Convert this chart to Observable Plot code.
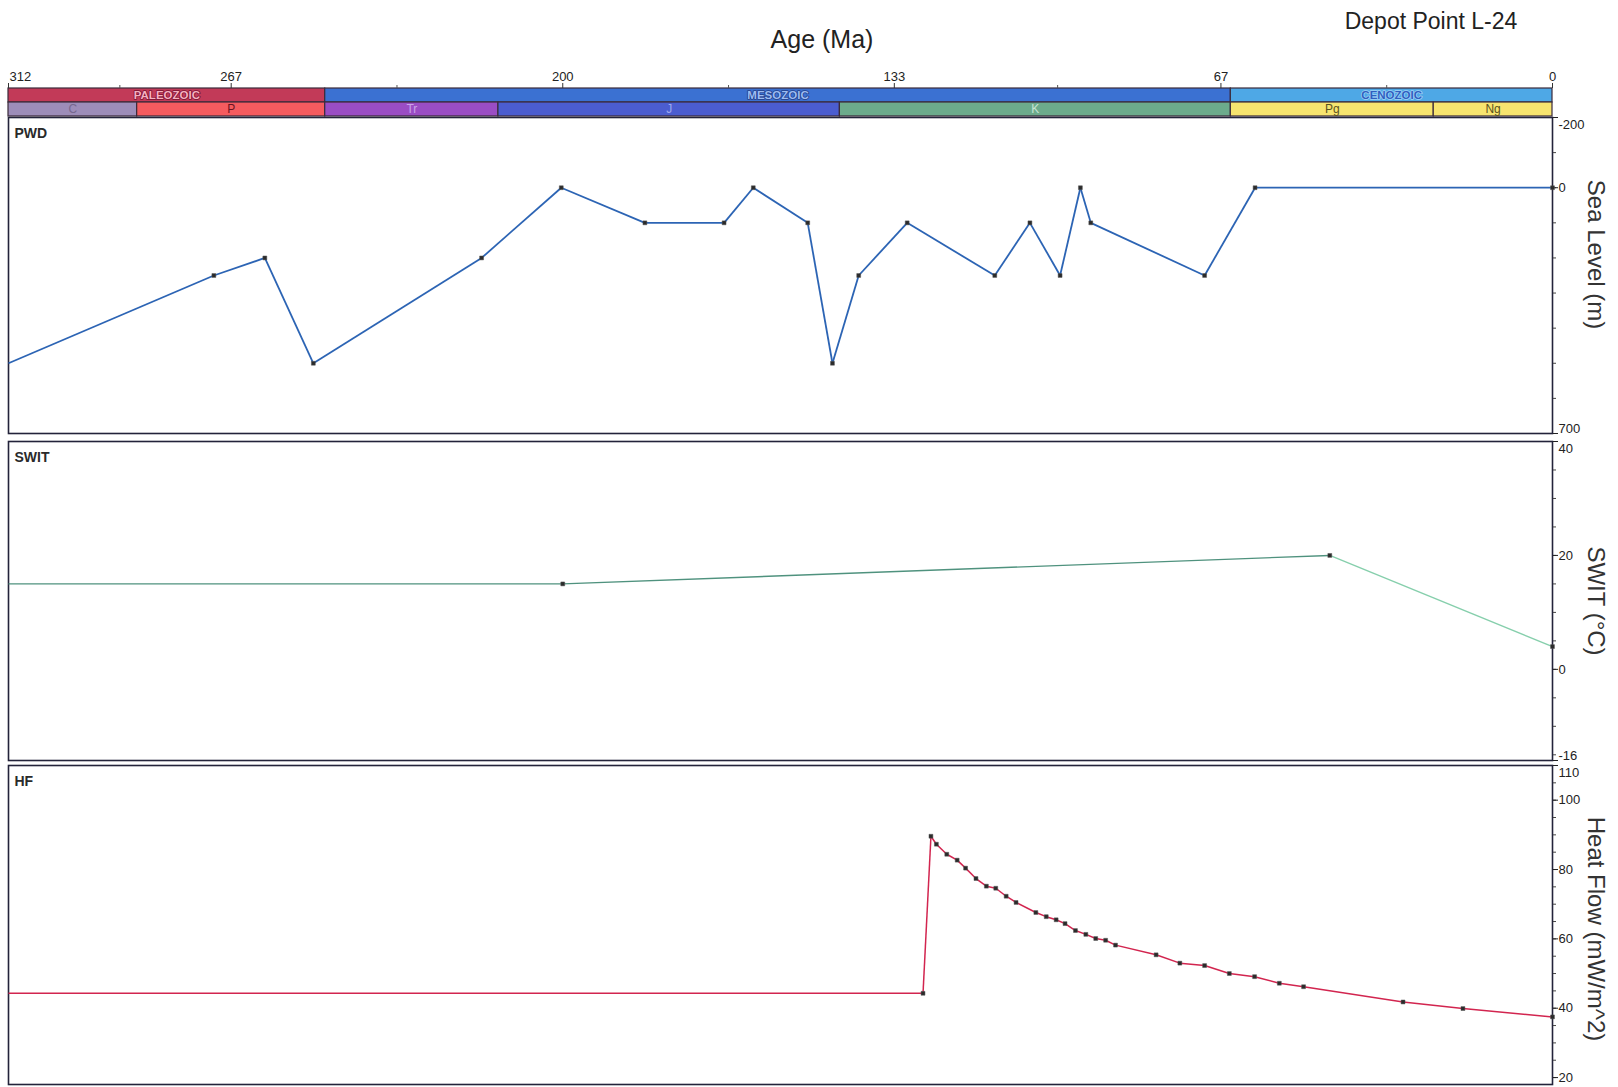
<!DOCTYPE html>
<html><head><meta charset="utf-8">
<script src="https://cdn.jsdelivr.net/npm/d3@7"></script>
<script src="https://cdn.jsdelivr.net/npm/@observablehq/plot@0.6"></script>
<style>
body{margin:0;background:#fff;}
#wrap{position:relative;width:1618px;height:1087px;overflow:hidden;background:#fff;font-family:"Liberation Sans",Arial,sans-serif;}
#wrap svg{position:absolute;left:0;overflow:visible;}
.title{position:absolute;color:#222;white-space:nowrap;transform:translate(-50%,-50%);}
</style></head>
<body><div id="wrap"></div>
<script>
// ---------- data ----------
const ageTicks = [312, 267, 200, 133, 67, 0];
const ageTickLabels = ["312", "267", "200", "133", "67", "0"];
const ageMinorTicks = [289.5, 233.5, 166.5, 100, 33.5];

const eraNames = ["PALEOZOIC", "MESOZOIC", "CENOZOIC"];
const eraStart = [312, 248, 65];
const eraEnd   = [248, 65, 0];
const eraFill  = ["#c23a58", "#3b71d2", "#4ea8e6"];
const eraTextFill = ["#f6b0c0", "#9cbcf2", "#2f5fc0"];
const eraTextHalo = ["#7a1030", "#24408a", "#9fd2f6"];

const periodNames = ["C", "P", "Tr", "J", "K", "Pg", "Ng"];
const periodStart = [312, 286, 248, 213, 144, 65, 24];
const periodEnd   = [286, 248, 213, 144, 65, 24, 0];
const periodFill  = ["#9d8db9", "#f55b5f", "#9a4dc4", "#4b5dd0", "#6cab8c", "#f7e46f", "#f7e46f"];
const periodText  = ["#76688f", "#6a1422", "#caa4ea", "#9eaaf0", "#c6e4d4", "#5a5220", "#5a5220"];

// Sea level (PWD)
const pwdAge   = [312, 270.5, 260.2, 250.4, 216.4, 200.3, 183.4, 167.4, 161.5, 150.5, 145.5, 140.2, 130.4, 112.7, 105.6, 99.5, 95.4, 93.3, 70.3, 60.1, 0];
const pwdValue = [500, 250, 200, 500, 200, 0, 100, 100, 0, 100, 500, 250, 100, 250, 100, 250, 0, 100, 250, 0, 0];
const pwdTicks = [-200, 0, 700];
const pwdTickLabels = ["-200", "0", "700"];

// Sediment-water interface temperature (SWIT)
const switAge   = [312, 200, 45, 0];
const switValue = [15, 15, 20, 4];
const switTicks = [40, 20, 0, -16];
const switTickLabels = ["40", "20", "0", "-16"];

// Heat flow (HF)
const hfAge   = [312, 127.2, 125.6, 124.5, 122.4, 120.3, 118.6, 116.5, 114.4, 112.5, 110.4, 108.4, 104.4, 102.3, 100.3, 98.5, 96.4, 94.3, 92.3, 90.3, 88.3, 80.1, 75.3, 70.3, 65.3, 60.2, 55.2, 50.3, 30.2, 18.1, 0];
const hfValue = [44.3, 44.3, 89.6, 87.3, 84.4, 82.7, 80.4, 77.4, 75.2, 74.6, 72.3, 70.5, 67.6, 66.4, 65.5, 64.4, 62.4, 61.3, 60.1, 59.6, 58.2, 55.4, 53.0, 52.3, 50.0, 49.1, 47.2, 46.2, 41.8, 39.9, 37.5];
const hfTicks = [110, 100, 80, 60, 40, 20];
const hfTickLabels = ["110", "100", "80", "60", "40", "20"];

// ---------- layout ----------
const W = 1618, ML = 8, MR = 66;
const FONT = '"Liberation Sans Narrow","Liberation Sans",Arial,sans-serif';
const wrap = document.getElementById("wrap");

function addTitle(text, cx, cy, size) {
  const d = document.createElement("div");
  d.className = "title";
  d.textContent = text;
  d.style.left = cx + "px"; d.style.top = cy + "px"; d.style.fontSize = size + "px";
  wrap.appendChild(d);
}
function place(svg, top) { svg.style.top = top + "px"; wrap.appendChild(svg); }

addTitle("Age (Ma)", 822, 39, 25);
addTitle("Depot Point L-24", 1431, 21, 23);

// ---------- time scale header ----------
const eras = eraNames.map((n, i) => ({name: n, start: eraStart[i], end: eraEnd[i], fill: eraFill[i], tf: eraTextFill[i], th: eraTextHalo[i], row: "era"}));
const periods = periodNames.map((n, i) => ({name: n, start: periodStart[i], end: periodEnd[i], fill: periodFill[i], tf: periodText[i], row: "period"}));
const ageLabels = ageTicks.map((t, i) => ({t, label: ageTickLabels[i]}));
const tickText = {x: "t", text: "label", frameAnchor: "top", lineAnchor: "bottom", dy: -7, fontSize: 13, fill: "#222"};

const header = Plot.plot({
  width: W, height: 56, marginLeft: ML, marginRight: MR, marginTop: 27, marginBottom: 0,
  style: {fontFamily: FONT, background: "transparent"},
  x: {domain: [312, 0], axis: null},
  y: {type: "band", domain: ["era", "period"], padding: 0, axis: null},
  color: {type: "identity"},
  marks: [
    Plot.barX(eras, {x1: "start", x2: "end", y: "row", fill: "fill", stroke: "#3b2b3b", strokeWidth: 1.2}),
    Plot.barX(periods, {x1: "start", x2: "end", y: "row", fill: "fill", stroke: "#3b2b3b", strokeWidth: 1.2}),
    Plot.text(eras, {x: d => (d.start + d.end) / 2, y: "row", text: "name", fill: "tf", stroke: "th", strokeWidth: 1.6, fontSize: 11.5, fontWeight: "bold"}),
    Plot.text(periods, {x: d => (d.start + d.end) / 2, y: "row", text: "name", fill: "tf", fontSize: 12}),
    Plot.axisX(ageTicks, {anchor: "top", tickSize: 5, tickFormat: () => "", label: null, stroke: "#333"}),
    Plot.axisX(ageMinorTicks, {anchor: "top", tickSize: 3, tickFormat: () => "", label: null, stroke: "#555"}),
    Plot.text(ageLabels.filter(d => d.t === 312), {...tickText, textAnchor: "start", dx: 1}),
    Plot.text(ageLabels.filter(d => d.t !== 312), {...tickText, textAnchor: "middle"})
  ]
});
place(header, 60);

// ---------- panels ----------
function panel(o) {
  const data = o.ages.map((a, i) => ({age: a, v: o.values[i], i}));
  const segs = data.slice(1).map((d, k) => ({a1: data[k].age, v1: data[k].v, a2: d.age, v2: d.v, k}));
  const ticks = o.ticks.map((t, i) => ({v: t, label: o.tickLabels[i]}));
  const lo = Math.min(...o.domain), hi = Math.max(...o.domain);
  const topVal = o.reverse ? lo : hi, botVal = o.reverse ? hi : lo;
  const tickStyle = {y: "v", text: "label", frameAnchor: "right", textAnchor: "start", dx: 6, fontSize: 13, fill: "#222"};
  const marks = [
    Plot.frame({stroke: "#23233a", strokeWidth: 1.6}),
    Plot.axisY(o.minor, {anchor: "right", tickSize: 3, tickFormat: () => "", label: null, stroke: "#444"}),
    Plot.axisY(o.ticks, {anchor: "right", tickSize: 5, tickFormat: () => "", label: null, stroke: "#222"}),
    Plot.text(ticks.filter(d => d.v === topVal), {...tickStyle, lineAnchor: "top", dy: 2}),
    Plot.text(ticks.filter(d => d.v === botVal), {...tickStyle, lineAnchor: "bottom", dy: -1}),
    Plot.text(ticks.filter(d => d.v !== topVal && d.v !== botVal), {...tickStyle, lineAnchor: "middle"}),
    Plot.text([o.axisLabel], {text: d => d, frameAnchor: "right", textAnchor: "middle", rotate: 90, dx: 43, dy: o.labelDy || 0, fontSize: 24, fill: "#333", fontFamily: '"Liberation Sans",Arial,sans-serif'}),
    Plot.text([o.name], {text: d => d, frameAnchor: "top-left", textAnchor: "start", dx: 6, dy: 11, fontSize: 14, fontWeight: "bold", fill: "#2a2a2a"}),
    Plot.link(segs, {x1: "a1", y1: "v1", x2: "a2", y2: "v2", stroke: d => o.segColors ? o.segColors[d.k] : o.color, strokeWidth: o.width}),
    Plot.dot(data.filter(d => d.i > 0), {x: "age", y: "v", symbol: "square", r: 2.2, fill: "#2b2b2b", stroke: "#555", strokeWidth: 0.5})
  ];
  const svg = Plot.plot({
    width: W, height: o.height, marginLeft: ML, marginRight: MR, marginTop: 0, marginBottom: 0,
    style: {fontFamily: FONT, background: "transparent"},
    x: {domain: [312, 0], axis: null},
    y: {domain: o.domain, reverse: o.reverse, axis: null},
    color: {type: "identity"},
    marks
  });
  place(svg, o.top);
}

panel({name: "PWD", ages: pwdAge, values: pwdValue, domain: [-200, 700], reverse: true,
  ticks: pwdTicks, tickLabels: pwdTickLabels, minor: d3.range(-200, 701, 100),
  axisLabel: "Sea Level (m)", labelDy: -21, color: "#2c64b4", width: 1.8, top: 117, height: 316});

panel({name: "SWIT", ages: switAge, values: switValue, domain: [-16, 40], reverse: false,
  ticks: switTicks, tickLabels: switTickLabels, minor: d3.range(-15, 41, 5),
  axisLabel: "SWIT (°C)", color: "#5aa68a", segColors: ["#4f927e", "#4f927e", "#86cfac"], width: 1.4, top: 441, height: 319});

panel({name: "HF", ages: hfAge, values: hfValue, domain: [18, 110], reverse: false,
  ticks: hfTicks, tickLabels: hfTickLabels, minor: d3.range(20, 111, 5),
  axisLabel: "Heat Flow (mW/m^2)", labelDy: 4, color: "#d2254f", width: 1.5, top: 765, height: 319});
</script>
</body></html>
